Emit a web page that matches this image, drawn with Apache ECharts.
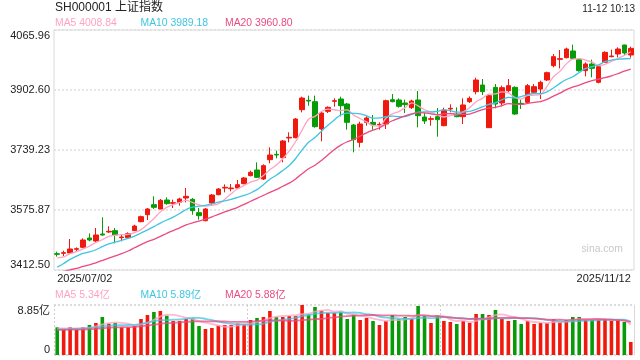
<!DOCTYPE html>
<html><head><meta charset="utf-8">
<script src="https://cdn.jsdelivr.net/npm/echarts@6/dist/echarts.min.js"></script>
<style>html,body{margin:0;padding:0;background:#fff}#c{width:640px;height:360px}</style>
</head><body><div id="c"></div>
<script>
const dates = [
'2025/07/02','2025/07/03','2025/07/04','2025/07/07','2025/07/08','2025/07/09','2025/07/10','2025/07/11','2025/07/14','2025/07/15',
'2025/07/16','2025/07/17','2025/07/18','2025/07/21','2025/07/22','2025/07/23','2025/07/24','2025/07/25','2025/07/28','2025/07/29',
'2025/07/30','2025/07/31','2025/08/01','2025/08/04','2025/08/05','2025/08/06','2025/08/07','2025/08/08','2025/08/11','2025/08/12',
'2025/08/13','2025/08/14','2025/08/15','2025/08/18','2025/08/19','2025/08/20','2025/08/21','2025/08/22','2025/08/25','2025/08/26',
'2025/08/27','2025/08/28','2025/08/29','2025/09/01','2025/09/02','2025/09/03','2025/09/04','2025/09/05','2025/09/08','2025/09/09',
'2025/09/10','2025/09/11','2025/09/12','2025/09/15','2025/09/16','2025/09/17','2025/09/18','2025/09/19','2025/09/22','2025/09/23',
'2025/09/24','2025/09/25','2025/09/26','2025/09/29','2025/09/30','2025/10/09','2025/10/10','2025/10/13','2025/10/14','2025/10/15',
'2025/10/16','2025/10/17','2025/10/20','2025/10/21','2025/10/22','2025/10/23','2025/10/24','2025/10/27','2025/10/28','2025/10/29',
'2025/10/30','2025/10/31','2025/11/03','2025/11/04','2025/11/05','2025/11/06','2025/11/07','2025/11/10','2025/11/11','2025/11/12'];

const opens = [
3457.0,3457.9,3458.8,3468.8,3474.2,3499.6,3491.4,3510.5,3516.0,3519.6,
3500.5,3500.5,3519.6,3544.1,3563.1,3590.4,3578.6,3603.1,3594.0,3596.7,
3608.5,3604.9,3568.6,3546.8,3594.9,3617.6,3635.7,3634.0,3635.7,3647.6,
3669.4,3684.8,3660.3,3712.9,3727.4,3718.3,3771.9,3772.8,3849.0,3874.5,
3870.8,3796.4,3844.5,3871.7,3878.1,3864.5,3807.3,3760.1,3814.6,3814.6,
3807.3,3810.0,3876.3,3875.4,3867.2,3854.5,3875.4,3829.1,3822.7,3830.0,
3805.5,3850.9,3836.3,3830.0,3870.8,3898.1,3916.2,3800.0,3909.8,3867.2,
3900.8,3909.8,3866.3,3869.0,3896.3,3905.3,3929.8,3968.8,3986.1,3990.6,
4008.8,3985.2,3955.3,3973.4,3923.5,3977.9,3993.3,4000.6,4025.1,3997.9];

const closes = [
3455.2,3459.7,3469.7,3470.6,3494.2,3494.2,3507.8,3507.8,3517.8,3507.8,
3502.3,3511.4,3532.3,3557.7,3578.6,3583.1,3602.2,3593.1,3595.8,3605.8,
3613.1,3574.0,3560.4,3578.6,3616.7,3633.0,3637.6,3635.7,3644.8,3663.0,
3678.4,3664.8,3696.6,3725.6,3725.6,3763.7,3773.7,3823.6,3880.8,3872.6,
3802.8,3839.9,3855.4,3873.5,3859.9,3814.6,3767.4,3810.0,3826.4,3808.2,
3809.1,3873.5,3870.8,3858.1,3862.7,3872.6,3832.7,3818.2,3824.5,3821.8,
3848.1,3852.7,3830.0,3861.8,3879.9,3929.8,3898.1,3887.2,3864.5,3909.0,
3914.4,3837.2,3864.5,3914.4,3911.7,3923.5,3949.8,3993.3,3987.9,4014.2,
3988.8,3955.3,3973.4,3961.6,3966.1,4005.2,3995.2,4014.2,4003.3,4016.0];

const lows = [
3448.8,3450.6,3457.0,3462.4,3472.4,3490.5,3487.8,3506.0,3513.2,3485.1,
3490.5,3498.7,3518.7,3542.3,3548.6,3578.6,3577.7,3590.4,3581.3,3587.7,
3596.7,3563.1,3549.5,3545.0,3590.4,3615.8,3623.9,3626.7,3633.0,3645.7,
3667.5,3663.0,3657.5,3702.9,3716.5,3705.6,3760.1,3771.0,3841.8,3859.9,
3800.0,3762.8,3839.9,3857.2,3830.9,3794.6,3732.9,3746.5,3805.5,3794.6,
3794.6,3796.4,3869.0,3854.5,3839.9,3850.9,3800.9,3810.0,3805.5,3775.5,
3803.7,3841.8,3828.2,3810.0,3867.2,3890.8,3889.0,3799.1,3852.7,3858.1,
3896.3,3834.5,3850.9,3867.2,3893.5,3878.1,3927.1,3964.3,3961.6,3988.8,
3985.2,3952.5,3939.8,3937.1,3920.7,3976.1,3991.5,3991.5,3997.9,3990.6];

const highs = [
3462.4,3465.1,3496.9,3474.2,3498.7,3512.3,3526.9,3555.9,3531.4,3526.9,
3508.7,3515.0,3535.9,3560.4,3581.3,3613.1,3605.8,3610.3,3604.0,3609.4,
3635.7,3608.5,3581.3,3581.3,3619.4,3635.7,3645.7,3646.6,3657.5,3665.7,
3682.9,3705.6,3700.2,3746.5,3737.4,3766.4,3787.3,3826.4,3884.4,3887.2,
3887.2,3843.6,3858.1,3879.9,3884.4,3867.2,3810.0,3816.4,3830.9,3834.5,
3814.6,3876.3,3891.7,3879.9,3876.3,3876.3,3899.9,3839.9,3830.9,3853.6,
3854.5,3863.6,3855.4,3879.9,3885.3,3936.2,3932.5,3890.8,3918.9,3914.4,
3932.5,3912.6,3876.3,3918.9,3918.9,3928.0,3952.5,4000.6,4011.5,4017.9,
4026.0,3988.8,3977.9,3985.2,3968.8,4007.9,4012.4,4018.8,4026.0,4020.6];

// volume in 亿
const volumes = [
4.90,4.54,4.90,4.54,4.90,5.31,5.66,6.73,5.55,5.66,
4.90,4.90,5.13,6.37,7.08,7.61,7.79,6.96,6.02,6.02,
6.37,6.49,5.13,4.60,4.78,5.19,5.31,5.31,5.55,5.43,
6.20,6.55,6.73,7.79,6.73,6.73,6.90,6.90,8.85,7.20,
8.50,7.85,7.43,7.43,7.55,6.37,7.14,6.20,6.55,6.02,
5.31,6.02,7.08,6.37,6.73,6.37,8.67,6.90,5.66,7.08,
6.02,5.84,5.49,6.02,5.66,7.26,7.26,7.08,7.97,6.37,
6.02,6.20,5.49,6.02,5.49,5.66,5.66,6.37,5.78,6.20,
6.73,6.73,6.20,6.20,6.20,6.37,6.02,6.20,5.84,2.30];

// hidden history before the first visible day (only used for moving averages)
const priorCloses = [3384,3385,3399,3384,3402,3402,3377,3388,3387,3388,3362,3359,3381,3420,3455,3448,3424,3444,3457];
const priorVolumes = [4.2,4.3,4.5,4.2,4.4,4.3,4.1,4.4,4.3,4.4,4.3,4.5,4.4,4.3,4.5,4.6,4.7,4.6,4.7];

const yTickLabels = ['3412.50','3575.87','3739.23','3902.60','4065.96'];
const yMin = 3412.50, yMax = 4065.96;
const volTickLabels = ['0','8.85亿'];
const volMax = 8.85;
const maLegend = ['MA5 4008.84','MA10 3989.18','MA20 3960.80'];
const volMaLegend = ['MA5 5.34亿','MA10 5.89亿','MA20 5.88亿'];

const RED = '#f0190d', GREEN = '#079c07';
const C5 = '#ffa3c3', C10 = '#3ec5e3', C20 = '#eb4a82';
const FONT = '"Liberation Sans", Arial, "Noto Sans CJK SC", sans-serif';

function movingAvg(prior, vals, n) {
  const all = prior.concat(vals), off = prior.length;
  return vals.map((_, i) => {
    let s = 0;
    for (let k = 0; k < n; k++) s += all[off + i - k];
    return +(s / n).toFixed(2);
  });
}

const kData = dates.map((d, i) => [opens[i], closes[i], lows[i], highs[i]]);
const volData = volumes.map((v, i) => ({ value: v, itemStyle: { color: closes[i] > opens[i] ? RED : GREEN } }));

const chart = echarts.init(document.getElementById('c'), null, { renderer: 'canvas' });

function txt(x, y, s, color, size, align) {
  return { type: 'text', x: x, y: y, silent: true,
    style: { text: s, fill: color, font: size + 'px ' + FONT, align: align || 'left', verticalAlign: 'middle' } };
}

const lineS = (name, data, color, xi, yi, w, op) => ({
  name, type: 'line', data, xAxisIndex: xi, yAxisIndex: yi, symbol: 'none', smooth: 0.3,
  lineStyle: { color, width: w, opacity: op }, itemStyle: { color }, silent: true, z: 3
});

chart.setOption({
  animation: false,
  backgroundColor: '#fff',
  textStyle: { fontFamily: FONT },
  grid: [
    { left: 54, right: 6, top: 30, height: 240, show: true, borderColor: '#d9d9d9', borderWidth: 1, backgroundColor: 'transparent' },
    { left: 54, right: 6, top: 305, height: 50, show: false }
  ],
  xAxis: [
    { type: 'category', gridIndex: 0, data: dates, boundaryGap: true,
      axisLine: { show: false }, axisTick: { show: false }, splitLine: { show: false },
      axisLabel: { interval: (i) => i === 0 || i === dates.length - 1, color: '#222', fontSize: 11, fontFamily: FONT, margin: 3,
        alignMinLabel: 'left', alignMaxLabel: 'right', showMinLabel: true, showMaxLabel: true } },
    { type: 'category', gridIndex: 1, data: dates, boundaryGap: true,
      axisLine: { show: false }, axisTick: { show: false }, axisLabel: { show: false },
      splitLine: { show: true, interval: (i) => i === 0 || i === 30 || i === 60, lineStyle: { color: '#cfcfcf', type: [2, 2], width: 1 } } }
  ],
  yAxis: [
    { type: 'value', gridIndex: 0, min: yMin, max: yMax, interval: (yMax - yMin) / 4, scale: true,
      axisLine: { show: false }, axisTick: { show: false },
      splitLine: { show: true, lineStyle: { color: '#dedede', type: [2, 2], width: 1.5 } },
      axisLabel: { color: '#222', fontSize: 11, fontFamily: FONT, margin: 4,
        verticalAlignMinLabel: 'bottom', verticalAlignMaxLabel: 'top',
        formatter: (v) => {
          let best = 0, bd = Infinity;
          yTickLabels.forEach((l, k) => { const d = Math.abs(parseFloat(l) - v); if (d < bd) { bd = d; best = k; } });
          return yTickLabels[best];
        } } },
    { type: 'value', gridIndex: 1, min: 0, max: volMax, interval: volMax,
      axisLine: { show: false }, axisTick: { show: false },
      splitLine: { show: true, lineStyle: { color: '#cfcfcf', type: [2, 2], width: 1.5 } },
      axisLabel: { color: '#222', fontSize: 11, fontFamily: FONT, margin: 4,
        verticalAlignMinLabel: 'bottom', verticalAlignMaxLabel: 'top',
        formatter: (v) => v === 0 ? volTickLabels[0] : volTickLabels[1] } },
    { type: 'value', gridIndex: 1, position: 'right', min: 0, max: volMax,
      axisLine: { show: true, lineStyle: { color: '#d9d9d9' } }, axisTick: { show: false },
      axisLabel: { show: false }, splitLine: { show: false } }
  ],
  graphic: [
    txt(55, 8, 'SH000001 上证指数', '#222', 12),
    txt(635, 9, '11-12 10:13', '#222', 10, 'right'),
    txt(55, 23, maLegend[0], C5, 10.4),
    txt(140.5, 23, maLegend[1], C10, 10.4),
    txt(225, 23, maLegend[2], C20, 10.4),
    txt(55, 295, volMaLegend[0], C5, 10.4),
    txt(140.5, 295, volMaLegend[1], C10, 10.4),
    txt(225, 295, volMaLegend[2], C20, 10.4),
    txt(623, 249, 'sina.com', '#c9c9c9', 10.4, 'right')
  ],
  series: [
    { name: 'K', type: 'candlestick', xAxisIndex: 0, yAxisIndex: 0, data: kData, barWidth: 5, silent: true,
      itemStyle: { color: RED, color0: GREEN, borderColor: RED, borderColor0: GREEN, borderWidth: 1 } },
    lineS('MA5', movingAvg(priorCloses, closes, 5), C5, 0, 0, 1.3, 1),
    lineS('MA10', movingAvg(priorCloses, closes, 10), C10, 0, 0, 1.3, 1),
    lineS('MA20', movingAvg(priorCloses, closes, 20), C20, 0, 0, 1.3, 1),
    { name: 'VOL', type: 'bar', xAxisIndex: 1, yAxisIndex: 1, data: volData, barWidth: 3.6, silent: true },
    lineS('VMA5', movingAvg(priorVolumes, volumes, 5), C5, 1, 1, 1.8, 0.75),
    lineS('VMA10', movingAvg(priorVolumes, volumes, 10), C10, 1, 1, 1.8, 0.75),
    lineS('VMA20', movingAvg(priorVolumes, volumes, 20), C20, 1, 1, 1.8, 0.75)
  ]
});
</script></body></html>
